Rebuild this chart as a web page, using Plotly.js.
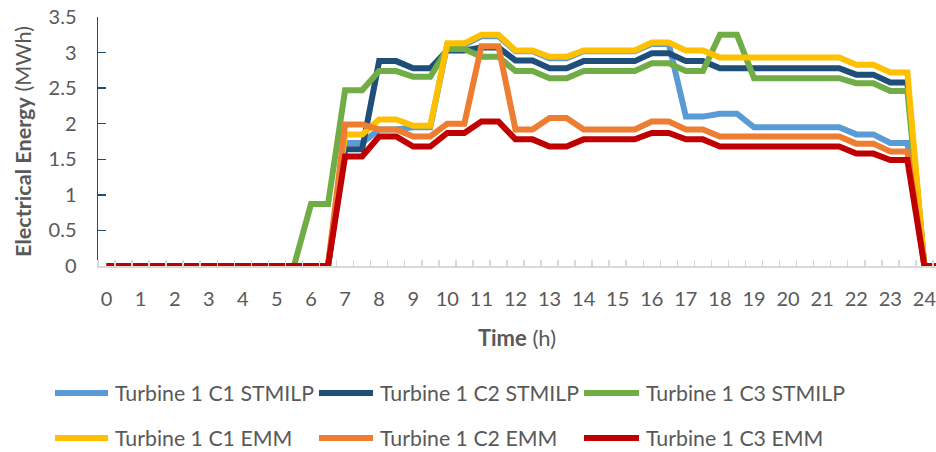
<!DOCTYPE html>
<html>
<head>
<meta charset="utf-8">
<script src="https://cdn.plot.ly/plotly-3.0.1.min.js"></script>
<style>
html, body { margin: 0; padding: 0; background: #ffffff; }
#chart { width: 936px; height: 452px; }
</style>
</head>
<body>
<div id="chart"></div>
<script>
// Time in hours (half-hour steps)
const hours = [0, 0.5, 1, 1.5, 2, 2.5, 3, 3.5, 4, 4.5, 5, 5.5, 6, 6.5, 7, 7.5, 8, 8.5, 9, 9.5,
  10, 10.5, 11, 11.5, 12, 12.5, 13, 13.5, 14, 14.5, 15, 15.5, 16, 16.5, 17, 17.5, 18, 18.5, 19, 19.5,
  20, 20.5, 21, 21.5, 22, 22.5, 23, 23.5, 24, 24.5];

const seriesNames = ["Turbine 1 C1 STMILP", "Turbine 1 C2 STMILP", "Turbine 1 C3 STMILP",
  "Turbine 1 C1 EMM", "Turbine 1 C2 EMM", "Turbine 1 C3 EMM"];

const c1Stmilp = [0, 0, 0, 0, 0, 0, 0, 0, 0, 0, 0, 0, 0, 0, 1.73, 1.73, 1.92, 1.92, 1.95, 1.95,
  3.11, 3.11, 3.23, 3.23, 3.02, 3.02, 2.92, 2.92, 3.02, 3.02, 3.02, 3.02, 3.12, 3.12, 2.10, 2.10, 2.14, 2.14, 1.95, 1.95,
  1.95, 1.95, 1.95, 1.95, 1.85, 1.85, 1.73, 1.73, 0, 0];
const c2Stmilp = [0, 0, 0, 0, 0, 0, 0, 0, 0, 0, 0, 0, 0, 0, 1.64, 1.64, 2.88, 2.88, 2.78, 2.78,
  3.03, 3.03, 3.07, 3.07, 2.89, 2.89, 2.78, 2.78, 2.88, 2.88, 2.88, 2.88, 2.99, 2.99, 2.88, 2.88, 2.78, 2.78, 2.78, 2.78,
  2.78, 2.78, 2.78, 2.78, 2.69, 2.69, 2.58, 2.58, 0, 0];
const c3Stmilp = [0, 0, 0, 0, 0, 0, 0, 0, 0, 0, 0, 0, 0.87, 0.87, 2.47, 2.47, 2.74, 2.74, 2.66, 2.66,
  3.05, 3.05, 2.94, 2.94, 2.74, 2.74, 2.64, 2.64, 2.74, 2.74, 2.74, 2.74, 2.85, 2.85, 2.74, 2.74, 3.25, 3.25, 2.64, 2.64,
  2.64, 2.64, 2.64, 2.64, 2.57, 2.57, 2.46, 2.46, 0, 0];
const c1Emm = [0, 0, 0, 0, 0, 0, 0, 0, 0, 0, 0, 0, 0, 0, 1.85, 1.85, 2.06, 2.06, 1.97, 1.97,
  3.13, 3.13, 3.25, 3.25, 3.03, 3.03, 2.94, 2.94, 3.03, 3.03, 3.03, 3.03, 3.14, 3.14, 3.03, 3.03, 2.93, 2.93, 2.93, 2.93,
  2.93, 2.93, 2.93, 2.93, 2.83, 2.83, 2.72, 2.72, 0, 0];
const c2Emm = [0, 0, 0, 0, 0, 0, 0, 0, 0, 0, 0, 0, 0, 0, 1.99, 1.99, 1.92, 1.92, 1.82, 1.82,
  2.00, 2.00, 3.09, 3.09, 1.92, 1.92, 2.08, 2.08, 1.92, 1.92, 1.92, 1.92, 2.03, 2.03, 1.92, 1.92, 1.82, 1.82, 1.82, 1.82,
  1.82, 1.82, 1.82, 1.82, 1.72, 1.72, 1.61, 1.61, 0, 0];
const c3Emm = [0, 0, 0, 0, 0, 0, 0, 0, 0, 0, 0, 0, 0, 0, 1.54, 1.54, 1.82, 1.82, 1.68, 1.68,
  1.87, 1.87, 2.03, 2.03, 1.78, 1.78, 1.68, 1.68, 1.78, 1.78, 1.78, 1.78, 1.87, 1.87, 1.78, 1.78, 1.68, 1.68, 1.68, 1.68,
  1.68, 1.68, 1.68, 1.68, 1.58, 1.58, 1.49, 1.49, 0, 0];

const xTickVals = [0, 1, 2, 3, 4, 5, 6, 7, 8, 9, 10, 11, 12, 13, 14, 15, 16, 17, 18, 19, 20, 21, 22, 23, 24];
const xTickText = ["0", "1", "2", "3", "4", "5", "6", "7", "8", "9", "10", "11", "12", "13", "14", "15", "16",
  "17", "18", "19", "20", "21", "22", "23", "24"];
const yTickVals = [0, 0.5, 1, 1.5, 2, 2.5, 3, 3.5];
const yTickText = ["0", "0.5", "1", "1.5", "2", "2.5", "3", "3.5"];

const colors = ["#5b9bd5", "#1f4e79", "#70ad47", "#ffc000", "#ed7d31", "#c00000"];
const allValues = [c1Stmilp, c2Stmilp, c3Stmilp, c1Emm, c2Emm, c3Emm];

const FONT = "Lato, 'Open Sans', sans-serif";
const GREY = "#595959";
const LW = 6;

const traces = allValues.map((vals, i) => ({
  type: "scatter",
  mode: "lines",
  x: hours,
  y: vals,
  name: seriesNames[i],
  line: { color: colors[i], width: LW, shape: "linear" },
  showlegend: false,
  hoverinfo: "x+y+name"
}));

// Layout geometry (pixels)
const W = 936, H = 452;
const M = { l: 98, r: 0, t: 17, b: 186 };
const PW = W - M.l - M.r, PH = H - M.t - M.b;
const px2x = p => (p - M.l) / PW;
const py2y = p => (H - M.b - p) / PH;

// manual legend (3 columns x 2 rows)
const legCols = [{ l0: 55, l1: 108, t: 113 }, { l0: 319, l1: 373, t: 378 }, { l0: 584, l1: 639, t: 644 }];
const legRows = [393, 438];
const shapes = [];
const annotations = [];
seriesNames.forEach((nm, i) => {
  const c = legCols[i % 3], r = legRows[Math.floor(i / 3)];
  shapes.push({
    type: "line", xref: "paper", yref: "paper",
    x0: px2x(c.l0), x1: px2x(c.l1), y0: py2y(r), y1: py2y(r),
    line: { color: colors[i], width: LW }
  });
  annotations.push({
    xref: "paper", yref: "paper", x: px2x(c.t), y: py2y(r),
    xanchor: "left", yanchor: "middle", showarrow: false,
    text: nm, font: { family: FONT, size: 21.3, color: GREY }
  });
});

const layout = {
  width: W, height: H,
  margin: M,
  paper_bgcolor: "#ffffff",
  plot_bgcolor: "#ffffff",
  font: { family: FONT, size: 20, color: GREY },
  xaxis: {
    range: [-0.25, 24.34],
    tickmode: "array",
    tickvals: xTickVals,
    ticktext: xTickText,
    ticks: "",
    showgrid: false,
    zeroline: false,
    showline: true,
    linecolor: "#d9d9d9",
    linewidth: 1.5,
    tickfont: { family: FONT, size: 20, color: GREY },
    ticklabelstandoff: 14,
    ticklabeloverflow: "allow",
    minor: { tick0: 0.25, dtick: 0.5, ticks: "inside", ticklen: 6, tickcolor: "#d9d9d9", tickwidth: 1.5, showgrid: false },
    title: { text: "<b>Time</b> (h)", font: { family: FONT, size: 22, color: GREY }, standoff: 22 },
    automargin: false,
    fixedrange: true
  },
  yaxis: {
    range: [0, 3.5],
    tickmode: "array",
    tickvals: yTickVals,
    ticktext: yTickText,
    ticks: "inside",
    ticklen: 8,
    tickcolor: "#1f4e79",
    tickwidth: 1.5,
    showgrid: false,
    zeroline: false,
    showline: true,
    linecolor: "#1f4e79",
    linewidth: 1.5,
    tickfont: { family: FONT, size: 20, color: GREY },
    ticklabelstandoff: 16,
    title: { text: "<b>Electrical Energy</b> (MWh)", font: { family: FONT, size: 21.6, color: GREY }, standoff: 11 },
    automargin: false,
    fixedrange: true
  },
  shapes: shapes,
  annotations: annotations,
  showlegend: false
};

Plotly.newPlot("chart", traces, layout, { displayModeBar: false, staticPlot: true });
</script>
</body>
</html>
